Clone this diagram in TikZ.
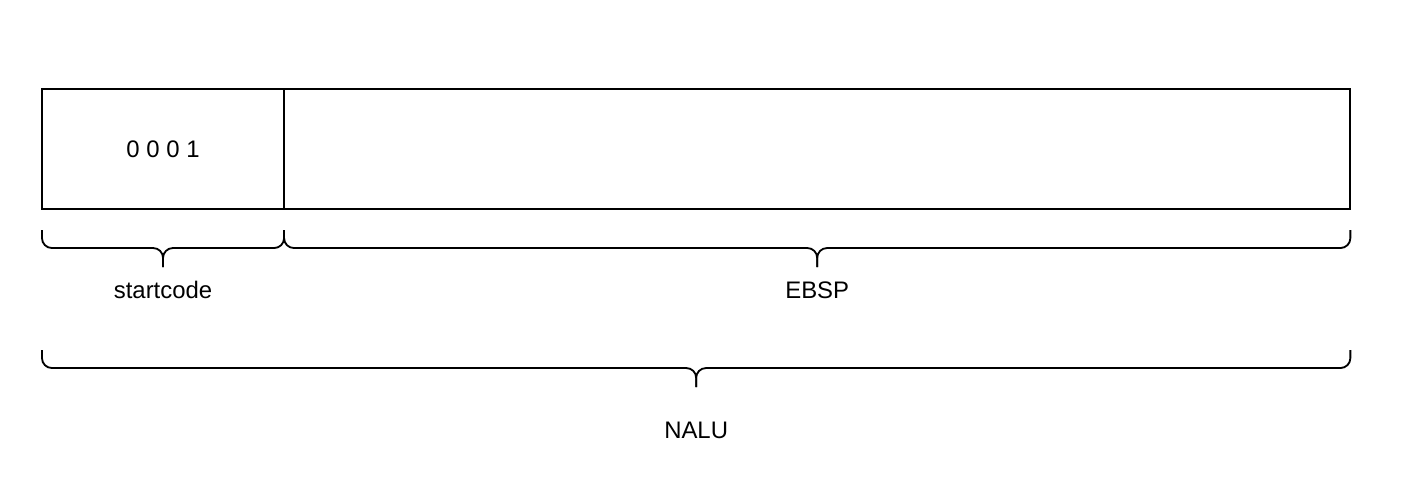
\documentclass[tikz,border=0pt]{standalone}
\usepackage{fontspec}
\setmainfont{Liberation Sans}
\usetikzlibrary{positioning,calc}

\newcommand{\segbrace}[2]{%
  \draw [brcline] (#1) -- ++(0,18) -| ($(#1)!0.5!(#2)+(0,37)$);
  \draw [brcline] (#2) -- ++(0,18) -| ($(#1)!0.5!(#2)+(0,37)$);}

\begin{document}
\begin{tikzpicture}[x=0.025cm,y=-0.025cm,line width=1.3pt,font=\fontsize{17}{20}\selectfont]
\tikzset{field/.style={draw, minimum height=3cm, inner sep=0pt, outer sep=0pt},
         brcline/.style={rounded corners=7pt}}
\useasboundingbox (0,0) rectangle (1416,480);
\node [field, minimum width=6.05cm, anchor=north west] (code) at (42,89) {0 0 0 1};
\node [field, minimum width=26.65cm, right=0pt of code] (ebsp) {};
\coordinate (a) at ($(code.south west)+(0,21)$);
\coordinate (b) at ($(code.south east)+(0,21)$);
\coordinate (c) at ($(ebsp.south east)+(0,21)$);
\coordinate (d) at ($(code.south west)+(0,141)$);
\coordinate (e) at ($(ebsp.south east)+(0,141)$);
% braces under the fields
\segbrace{a}{b}
\segbrace{b}{c}
\segbrace{d}{e}
\node (startcode) at ($(a)!0.5!(b)+(0,60)$) {startcode};
\node (ebsplabel) at ($(b)!0.5!(c)+(0,60)$) {EBSP};
\node (nalu) at ($(d)!0.5!(e)+(0,80)$) {NALU};
\end{tikzpicture}
\end{document}
